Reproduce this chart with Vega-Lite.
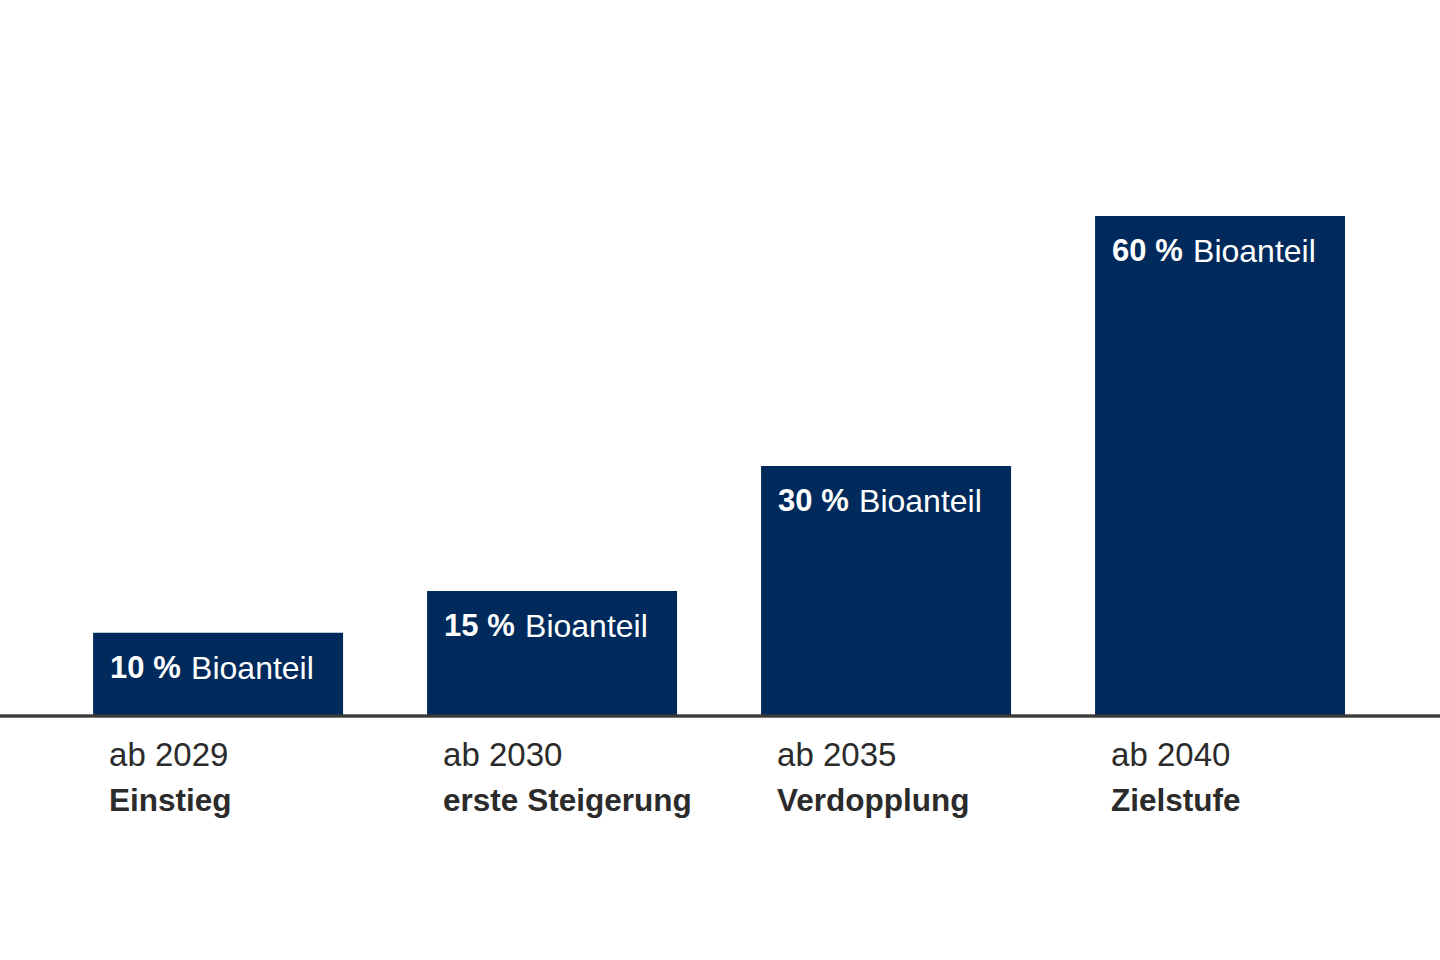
{
  "$schema": "https://vega.github.io/schema/vega-lite/v6.json",
  "width": 1440,
  "height": 716,
  "autosize": {"type": "none"},
  "padding": {"top": 0, "left": 0, "right": 0, "bottom": 244},
  "background": "#ffffff",
  "config": {"view": {"stroke": null}, "font": "Liberation Sans"},
  "data": {"values": [
    {"jahr": "ab 2029", "stufe": "Einstieg", "anteil": 10, "pct": "10 %", "label": "Bioanteil"},
    {"jahr": "ab 2030", "stufe": "erste Steigerung", "anteil": 15, "pct": "15 %", "label": "Bioanteil"},
    {"jahr": "ab 2035", "stufe": "Verdopplung", "anteil": 30, "pct": "30 %", "label": "Bioanteil"},
    {"jahr": "ab 2040", "stufe": "Zielstufe", "anteil": 60, "pct": "60 %", "label": "Bioanteil"}
  ]},
  "encoding": {
    "x": {"field": "jahr", "type": "nominal", "sort": null, "axis": null,
          "scale": {"paddingInner": 0.2515, "paddingOuter": 0.2815, "align": 0.495}}
  },
  "layer": [
    {
      "mark": {"type": "bar", "color": "#002a5b"},
      "encoding": {
        "y": {"field": "anteil", "type": "quantitative", "axis": null,
              "scale": {"domain": [0, 85.92], "nice": false}}
      }
    },
    {
      "mark": {"type": "rule", "color": "#3a3a3a", "strokeWidth": 2.5},
      "encoding": {"y": {"datum": 0, "type": "quantitative"}, "x": null}
    },
    {
      "mark": {"type": "text", "align": "left", "baseline": "middle", "dx": 17, "dy": 36,
               "fontSize": 31, "fontWeight": "bold", "color": "#ffffff"},
      "encoding": {
        "x": {"field": "jahr", "type": "nominal", "sort": null, "bandPosition": 0},
        "y": {"field": "anteil", "type": "quantitative"},
        "text": {"field": "pct"}
      }
    },
    {
      "mark": {"type": "text", "align": "left", "baseline": "middle", "dx": 98, "dy": 36,
               "fontSize": 32, "fontWeight": "normal", "color": "#ffffff"},
      "encoding": {
        "x": {"field": "jahr", "type": "nominal", "sort": null, "bandPosition": 0},
        "y": {"field": "anteil", "type": "quantitative"},
        "text": {"field": "label"}
      }
    },
    {
      "mark": {"type": "text", "align": "left", "baseline": "middle", "dx": 16, "dy": 40,
               "fontSize": 33, "fontWeight": "normal", "color": "#2b2b2b"},
      "encoding": {
        "x": {"field": "jahr", "type": "nominal", "sort": null, "bandPosition": 0},
        "y": {"datum": 0, "type": "quantitative"},
        "text": {"field": "jahr"}
      }
    },
    {
      "mark": {"type": "text", "align": "left", "baseline": "middle", "dx": 16, "dy": 86,
               "fontSize": 31.5, "fontWeight": "bold", "color": "#2b2b2b"},
      "encoding": {
        "x": {"field": "jahr", "type": "nominal", "sort": null, "bandPosition": 0},
        "y": {"datum": 0, "type": "quantitative"},
        "text": {"field": "stufe"}
      }
    }
  ]
}
